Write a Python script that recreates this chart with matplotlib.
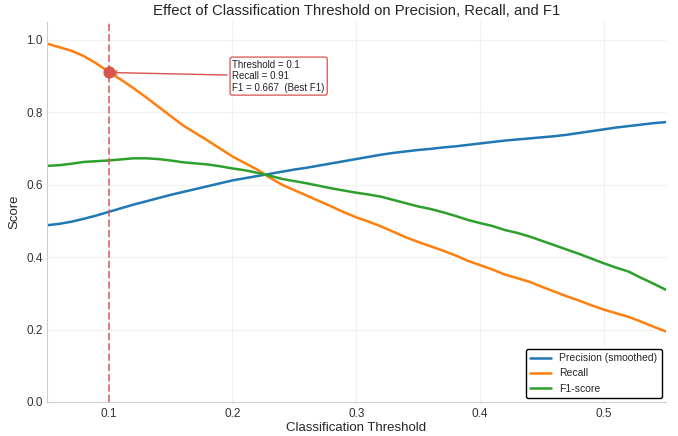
import numpy as np
import matplotlib
matplotlib.use("Agg")
import matplotlib.pyplot as plt
import seaborn as sns

# thresholds 0.05 .. 0.55 in steps of 0.01
thresholds = [round(0.05 + 0.01 * i, 2) for i in range(51)]

precision = [0.488, 0.492, 0.498, 0.506, 0.515, 0.525, 0.535, 0.545, 0.554, 0.563,
             0.572, 0.580, 0.588, 0.596, 0.604, 0.612, 0.618, 0.624, 0.630, 0.636,
             0.642, 0.647, 0.653, 0.659, 0.665, 0.671, 0.677, 0.683, 0.688, 0.692,
             0.696, 0.699, 0.703, 0.706, 0.710, 0.714, 0.718, 0.722, 0.725, 0.728,
             0.731, 0.734, 0.738, 0.743, 0.748, 0.753, 0.758, 0.762, 0.766, 0.770,
             0.773]

recall = [0.990, 0.980, 0.970, 0.955, 0.935, 0.912, 0.890, 0.867, 0.842, 0.816,
          0.790, 0.764, 0.743, 0.722, 0.700, 0.678, 0.660, 0.642, 0.620, 0.600,
          0.585, 0.570, 0.555, 0.540, 0.524, 0.510, 0.498, 0.485, 0.470, 0.455,
          0.442, 0.430, 0.418, 0.405, 0.390, 0.378, 0.366, 0.352, 0.342, 0.332,
          0.318, 0.305, 0.292, 0.280, 0.267, 0.255, 0.245, 0.235, 0.222, 0.208,
          0.195]

f1 = [0.652, 0.654, 0.658, 0.663, 0.665, 0.667, 0.670, 0.673, 0.673, 0.671,
      0.667, 0.662, 0.659, 0.656, 0.651, 0.645, 0.640, 0.633, 0.625, 0.616,
      0.610, 0.604, 0.597, 0.590, 0.584, 0.578, 0.573, 0.567, 0.558, 0.549,
      0.540, 0.533, 0.524, 0.514, 0.503, 0.494, 0.486, 0.475, 0.467, 0.457,
      0.445, 0.433, 0.421, 0.409, 0.396, 0.383, 0.371, 0.360, 0.343, 0.327,
      0.310]

best_thr = 0.1
best_recall = 0.91
best_f1 = 0.667

sns.set_style("whitegrid")
plt.rcParams['font.family'] = ['Liberation Sans', 'DejaVu Sans']
plt.rcParams['grid.color'] = '#f0f0f0'

fig = plt.figure(figsize=(6.78, 4.36), dpi=100)
ax = fig.add_axes([0.069, 0.078, 0.913, 0.872])

ax.plot(thresholds, precision, color='#1f77b4', lw=1.8, label='Precision (smoothed)')
ax.plot(thresholds, recall, color='#ff7f0e', lw=1.8, label='Recall')
ax.plot(thresholds, f1, color='#2ca02c', lw=1.8, label='F1-score')

ax.axvline(best_thr, color='#d9534f', ls='--', lw=1.4, alpha=0.75)
ax.scatter([best_thr], [best_recall], s=60, color='#d9534f', zorder=5)

ax.annotate(f"Threshold = {best_thr}\nRecall = {best_recall}\nF1 = {best_f1}  (Best F1)",
            xy=(best_thr, best_recall), xytext=(0.2, 0.9),
            fontsize=7, color='#222222', va='center', ha='left',
            bbox=dict(boxstyle='round,pad=0.25', fc='white', ec='#d9534f', lw=1, alpha=0.9),
            arrowprops=dict(arrowstyle='->', color='#d9534f', lw=1))

ax.set_xlim(0.05, 0.55)
ax.set_ylim(0, 1.05)
ax.set_xlabel("Classification Threshold", fontsize=9.5, labelpad=2)
ax.set_ylabel("Score", fontsize=9.5, labelpad=4)
ax.set_title("Effect of Classification Threshold on Precision, Recall, and F1", fontsize=10.7, pad=5)
ax.tick_params(labelsize=8.5, colors='#333333', length=0)
ax.tick_params(axis='x', pad=4)
ax.tick_params(axis='y', pad=3)

for s in ['top', 'right']:
    ax.spines[s].set_visible(False)
for s in ['left', 'bottom']:
    ax.spines[s].set_color('#cccccc')

leg = ax.legend(loc='lower right', fontsize=7.5, frameon=True, fancybox=True, framealpha=1,
                borderaxespad=0.4)
leg.get_frame().set_edgecolor('black')

fig.savefig("out.png", dpi=100)
